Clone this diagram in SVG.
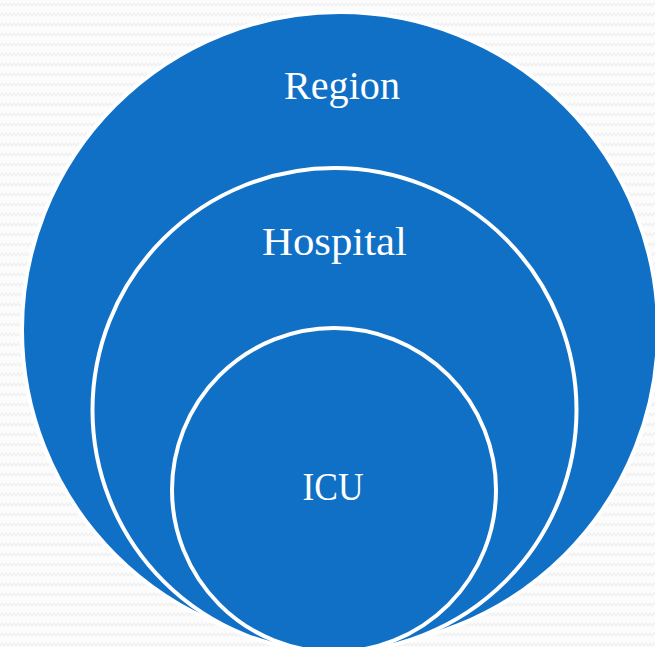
<svg xmlns="http://www.w3.org/2000/svg" width="655" height="647" viewBox="0 0 655 647">
<defs>
<pattern id="zig" width="8" height="10" patternUnits="userSpaceOnUse">
<path d="M0 6 L2 3 L4 6 L6 3 L8 6" fill="none" stroke="#F1F1F1" stroke-width="1.5"/>
</pattern>
</defs>
<style>
.c{fill:#1070C6;stroke:#FFFFFF;stroke-width:4}
.t{font-family:"Liberation Serif","DejaVu Serif",serif;font-size:39px;fill:#FFFFFF;text-anchor:middle}
</style>
<rect width="655" height="647" fill="#FCFCFC"/>
<rect width="655" height="647" fill="url(#zig)"/>
<g id="region">
<circle class="c" cx="340" cy="330" r="318"/>
<text class="t" x="342" y="99" textLength="116" lengthAdjust="spacingAndGlyphs">Region</text>
</g>
<g id="hospital">
<circle class="c" cx="334.5" cy="410" r="242"/>
<text class="t" x="334.5" y="255" textLength="145" lengthAdjust="spacingAndGlyphs">Hospital</text>
</g>
<g id="icu">
<circle class="c" cx="334" cy="490" r="162"/>
<text class="t" x="333" y="500" font-size="37" textLength="61" lengthAdjust="spacingAndGlyphs">ICU</text>
</g>
<g id="connectors"/>
</svg>
